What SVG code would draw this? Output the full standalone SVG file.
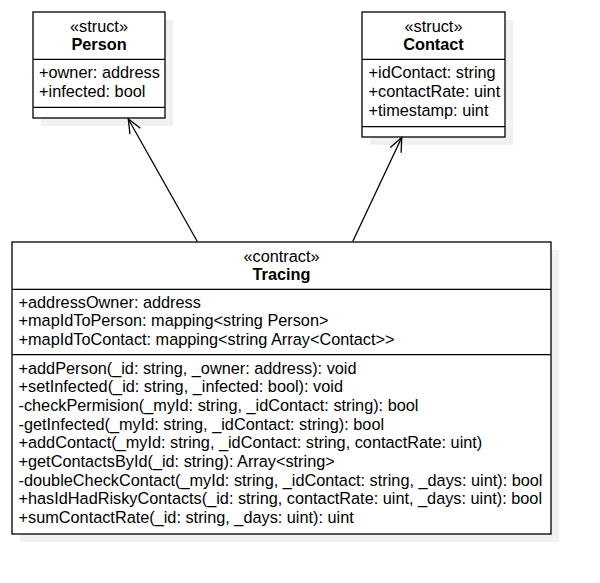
<svg xmlns="http://www.w3.org/2000/svg" width="600" height="583" viewBox="0 0 600 583">
<defs>
<marker id="open" viewBox="-16 -8 18 16" refX="0" refY="0" markerWidth="18" markerHeight="16" markerUnits="userSpaceOnUse" orient="auto">
<path d="M-14,-6 L0,0 L-14,6" fill="none" stroke="#000" stroke-width="1.3"/>
</marker>
</defs>
<style>
text{font-family:"Liberation Sans",Arial,sans-serif;font-size:16.3px;fill:#000}
.c{text-anchor:middle}
.b{font-weight:bold}
.shadow{fill:#f1f1f1}
.box{fill:#fff;stroke:#000;stroke-width:1.3}
.sep{stroke:#000;stroke-width:1.3}
.edge{fill:none;stroke:#000;stroke-width:1.3;marker-end:url(#open)}
</style>
<rect width="600" height="583" fill="#fff"/>
<g id="person">
<rect class="shadow" x="41" y="20" width="132" height="106"/>
<rect class="box" x="33" y="12" width="132" height="106"/>
<line class="sep" x1="33" y1="59.3" x2="165" y2="59.3"/>
<line class="sep" x1="33" y1="107.3" x2="165" y2="107.3"/>
<text class="c" x="99" y="31.5">«struct»</text>
<text class="c b" x="99" y="50">Person</text>
<text x="39" y="78.3">+owner: address</text>
<text x="39" y="97">+infected: bool</text>
</g>
<g id="contact">
<rect class="shadow" x="370" y="20" width="143" height="125"/>
<rect class="box" x="362" y="12" width="143" height="125"/>
<line class="sep" x1="362" y1="59.3" x2="505" y2="59.3"/>
<line class="sep" x1="362" y1="126.7" x2="505" y2="126.7"/>
<text class="c" x="433.5" y="31.5">«struct»</text>
<text class="c b" x="433.5" y="50">Contact</text>
<text x="368.5" y="78.3">+idContact: string</text>
<text x="368.5" y="97">+contactRate: uint</text>
<text x="368.5" y="115.7">+timestamp: uint</text>
</g>
<g id="tracing">
<rect class="shadow" x="20" y="250" width="539" height="292"/>
<rect class="box" x="12" y="242" width="539" height="292"/>
<line class="sep" x1="12" y1="289.3" x2="551" y2="289.3"/>
<line class="sep" x1="12" y1="354.7" x2="551" y2="354.7"/>
<text class="c" x="281.5" y="261.5">«contract»</text>
<text class="c b" x="281.5" y="280">Tracing</text>
<text x="18.5" y="307.7">+addressOwner: address</text>
<text x="18.5" y="326.4">+mapIdToPerson: mapping&lt;string Person&gt;</text>
<text x="18.5" y="345.1">+mapIdToContact: mapping&lt;string Array&lt;Contact&gt;&gt;</text>
<text x="18.5" y="373.5">+addPerson(_id: string, _owner: address): void</text>
<text x="18.5" y="392.2">+setInfected(_id: string, _infected: bool): void</text>
<text x="18.5" y="410.9">-checkPermision(_myId: string, _idContact: string): bool</text>
<text x="18.5" y="429.6">-getInfected(_myId: string, _idContact: string): bool</text>
<text x="18.5" y="448.3">+addContact(_myId: string, _idContact: string, contactRate: uint)</text>
<text x="18.5" y="467">+getContactsById(_id: string): Array&lt;string&gt;</text>
<text x="18.5" y="485.7">-doubleCheckContact(_myId: string, _idContact: string, _days: uint): bool</text>
<text x="18.5" y="504.4">+hasIdHadRiskyContacts(_id: string, contactRate: uint, _days: uint): bool</text>
<text x="18.5" y="523.1">+sumContactRate(_id: string, _days: uint): uint</text>
</g>
<g id="connectors">
<line class="edge" x1="197.3" y1="241.5" x2="128.3" y2="119"/>
<line class="edge" x1="352.7" y1="241.5" x2="401.7" y2="137.5"/>
</g>
</svg>
